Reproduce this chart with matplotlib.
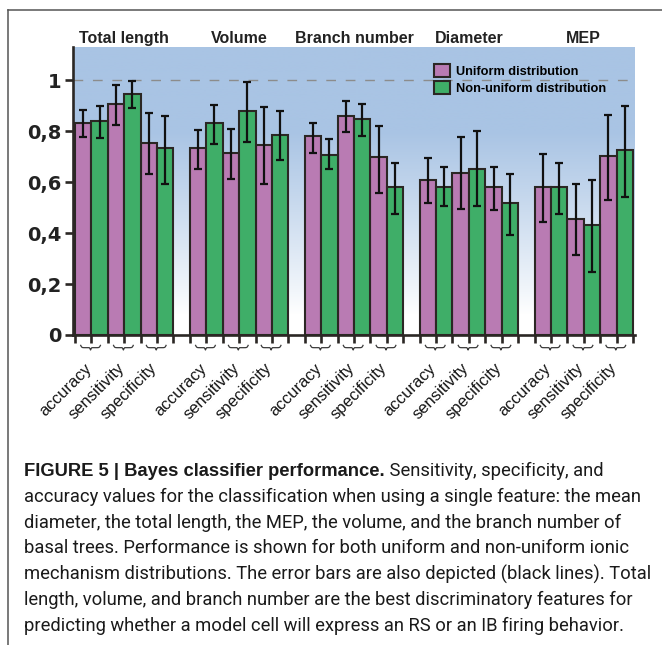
import numpy as np
import matplotlib
matplotlib.use("Agg")
import matplotlib.pyplot as plt
from matplotlib.patches import Patch
from matplotlib.lines import Line2D

# bar data: 5 features x (accuracy, sensitivity, specificity)
features = ["Total length", "Volume", "Branch number", "Diameter", "MEP"]
metrics = ["accuracy", "sensitivity", "specificity"]

uni_mean = [0.830, 0.906, 0.752,
            0.732, 0.715, 0.745,
            0.779, 0.861, 0.697,
            0.607, 0.635, 0.579,
            0.579, 0.454, 0.702]
uni_low = [0.775, 0.822, 0.630,
           0.652, 0.613, 0.593,
           0.715, 0.796, 0.558,
           0.516, 0.493, 0.489,
           0.443, 0.312, 0.531]
uni_high = [0.882, 0.980, 0.871,
            0.804, 0.809, 0.893,
            0.830, 0.919, 0.820,
            0.695, 0.778, 0.659,
            0.710, 0.591, 0.865]

non_mean = [0.839, 0.946, 0.735,
            0.830, 0.878, 0.784,
            0.708, 0.847, 0.579,
            0.582, 0.652, 0.518,
            0.579, 0.431, 0.725]
non_low = [0.771, 0.890, 0.593,
           0.749, 0.756, 0.686,
           0.650, 0.780, 0.475,
           0.506, 0.506, 0.391,
           0.475, 0.246, 0.541]
non_high = [0.898, 0.996, 0.860,
            0.903, 0.992, 0.878,
            0.769, 0.908, 0.673,
            0.659, 0.799, 0.631,
            0.673, 0.610, 0.898]

yticks = [0, 0.2, 0.4, 0.6, 0.8, 1.0]
ytick_labels = ["0", "0,2", "0,4", "0,6", "0,8", "1"]

caption_bold = "FIGURE 5 | Bayes classifier performance."
caption_lines = [
    " Sensitivity, specificity, and",
    "accuracy values for the classification when using a single feature: the mean",
    "diameter, the total length, the MEP, the volume, and the branch number of",
    "basal trees. Performance is shown for both uniform and non-uniform ionic",
    "mechanism distributions. The error bars are also depicted (black lines). Total",
    "length, volume, and branch number are the best discriminatory features for",
    "predicting whether a model cell will express an RS or an IB firing behavior.",
]

PURPLE = "#b97bb3"
GREEN = "#3fae68"
EDGE = "#2b2724"
W, H = 662, 645

fig = plt.figure(figsize=(W / 100, H / 100), dpi=100)
ax = fig.add_axes([73 / W, 1 - 335 / H, 562 / W, 288 / H])
ymax = 1.13
ax.set_ylim(0, ymax)
ax.set_xlim(-0.12, 34.12)

# blue-to-white background
yy = np.linspace(0, ymax, 300)
f = np.clip((yy - 0.08) / 0.72, 0, 1) ** 0.9
top = np.array([169, 196, 228]) / 255
grad = (1 - f[:, None]) * np.ones(3) + f[:, None] * top
ax.imshow(grad[:, None, :], extent=(-0.12, 34.12, 0, ymax), origin="lower",
          aspect="auto", zorder=0)

ax.axhline(1.0, color="#8c8c8c", lw=1.0, dashes=(7, 7), zorder=1)

uni_mean = np.array(uni_mean)
non_mean = np.array(non_mean)
idx = np.arange(len(uni_mean))
grp, met = idx // 3, idx % 3
x_uni = 7 * grp + 2 * met
x_non = x_uni + 1

for xs, m, lo, hi, c in [(x_uni, uni_mean, uni_low, uni_high, PURPLE),
                         (x_non, non_mean, non_low, non_high, GREEN)]:
    ax.bar(xs, m, width=1, align="edge", color=c, edgecolor=EDGE,
           linewidth=1.5, zorder=2)
    yerr = [m - np.array(lo), np.array(hi) - m]
    ax.errorbar(xs + 0.5, m, yerr=yerr, fmt="none", ecolor="#111111",
                elinewidth=1.6, capsize=3.2, capthick=1.6, zorder=3)

for s in ["top", "right"]:
    ax.spines[s].set_visible(False)
for s in ["left", "bottom"]:
    ax.spines[s].set_linewidth(1.9)
    ax.spines[s].set_color(EDGE)
    ax.spines[s].set_zorder(4)

ax.set_yticks(yticks)
ax.set_yticklabels(ytick_labels, fontsize=14, fontweight="bold", color="#222222")
ax.tick_params(axis="y", length=6, width=1.9, color=EDGE, pad=2)

edges = [7 * g + i for g in range(len(features)) for i in range(7)]
ax.set_xticks(edges)
ax.set_xticklabels([])
ax.tick_params(axis="x", length=6, width=1.9, color=EDGE)

# small horizontal braces under each bar pair, then the rotated metric names
bt = ax.get_xaxis_transform()
s = np.linspace(-1, 1, 81)
u = np.abs(s)
brace = -0.5 * np.tanh((1 - u) * 9) - 0.5 * np.clip(1 - u / 0.14, 0, None) ** 1.5
for g in range(len(features)):
    for k, name in enumerate(metrics):
        cx = 7 * g + 2 * k + 1
        ax.add_line(Line2D(cx - 0.05 + 0.6 * s, -0.036 + 0.016 * brace,
                           transform=bt, color="#3a3a3a", lw=0.9,
                           clip_on=False))
        ax.text(cx - 0.45, -0.088, name, transform=bt, rotation=45,
                ha="right", va="top", rotation_mode="anchor",
                fontsize=12, color="#141414", family="Liberation Sans")

    ax.text(7 * g + 3, 1.014, features[g], transform=bt, ha="center",
            va="baseline", fontsize=11.5, fontweight="bold", color="#222222",
            family="Liberation Sans")

handles = [Patch(facecolor=PURPLE, edgecolor=EDGE, linewidth=1.5),
           Patch(facecolor=GREEN, edgecolor=EDGE, linewidth=1.5)]
ax.legend(handles, ["Uniform distribution", "Non-uniform distribution"],
          loc="upper left", bbox_to_anchor=((428 - 73) / 562, 1 - (58 - 47) / 288),
          frameon=False, handlelength=1.25, handleheight=1.15,
          handletextpad=0.45, labelspacing=0.22, borderpad=0,
          prop={"weight": "bold", "family": "Liberation Sans", "size": 9.2})

# figure frame
fig.add_artist(Line2D([8 / W, 1], [1 - 10 / H, 1 - 10 / H], color="#555555", lw=1.1))
fig.add_artist(Line2D([8 / W, 8 / W], [0, 1 - 10 / H], color="#555555", lw=1.1))

# caption, sized so that the longest line spans the text block
cap_font = ["Roboto", "DejaVu Sans"]
renderer = fig.canvas.get_renderer()
probe = fig.text(0, 0, caption_lines[1], fontsize=13, family=cap_font)
pw = probe.get_window_extent(renderer).width
probe.remove()
fs = 13 * 619 / pw

x0, y0, dy = 24 / W, 1 - 471 / H, 25.8 / H
t = fig.text(x0, y0, caption_bold, fontsize=fs, fontweight="bold",
             family=["Liberation Sans", "DejaVu Sans"], va="center",
             color="#1a1a1a")
bb = t.get_window_extent(renderer).transformed(fig.transFigure.inverted())
fig.text(bb.x1, y0, caption_lines[0], fontsize=fs, family=cap_font,
         va="center", color="#1a1a1a")
for i, line in enumerate(caption_lines[1:], start=1):
    fig.text(x0, y0 - i * dy, line, fontsize=fs, family=cap_font,
             va="center", color="#1a1a1a")

fig.savefig("out.png", dpi=100)
